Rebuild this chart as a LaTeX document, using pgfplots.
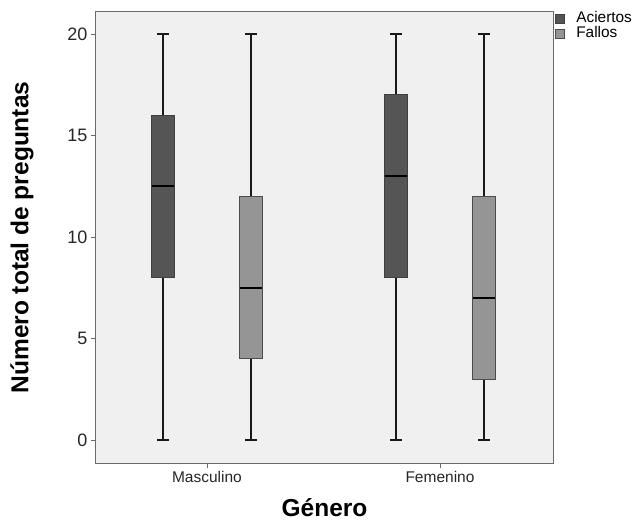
\documentclass[border=0pt]{standalone}
\usepackage{pgfplots}
\pgfplotsset{compat=1.18}
\usepgfplotslibrary{statistics}
\usepackage{fontspec}
\setmainfont{Liberation Sans}
\definecolor{bg}{HTML}{F0F0F0}
\definecolor{darkbox}{HTML}{555555}
\definecolor{lightbox}{HTML}{959595}
\definecolor{frame}{HTML}{6A6A6A}
\begin{document}
\begin{tikzpicture}
\path[use as bounding box] (-96bp,-58bp) rectangle (543bp,463bp);
\begin{axis}[
  scale only axis,
  width=457bp, height=451bp,
  xmin=0.524, xmax=2.485,
  ymin=-1.13, ymax=21.08,
  axis background/.style={fill=bg},
  axis line style={draw=frame, line width=1bp},
  xtick={1,2}, xticklabels={Masculino,Femenino},
  ytick={0,5,10,15,20},
  tick align=outside, tick pos=left,
  major tick length=5bp,
  every tick/.style={draw=frame, line width=0.8bp},
  /pgf/number format/assume math mode=true,
  yticklabel style={font=\fontsize{18bp}{20bp}\selectfont, text=black!85},
  xticklabel style={font=\fontsize{15.5bp}{17bp}\selectfont, text=black!85},
  ylabel={Número total de preguntas},
  xlabel={Género},
  ylabel style={at={(axis description cs:-0.162,0.5)}, anchor=center, font=\fontsize{24.5bp}{28bp}\selectfont\bfseries},
  xlabel style={at={(axis description cs:0.5,-0.1)}, anchor=center, font=\fontsize{24.5bp}{28bp}\selectfont\bfseries},
  boxplot/draw direction=y,
  boxplot/box extend=0.097,
  boxplot/whisker extend=0.05,
  boxplot/every whisker/.style={draw=black!90, line width=1.4bp},
  boxplot/every median/.style={draw=black, line width=2bp},
  boxplot/every box/.style={line width=0.8bp},
  legend style={at={(1,1)}, anchor=north west, draw=none, fill=none,
    font=\fontsize{15.4bp}{15bp}\selectfont, inner sep=0pt, outer sep=0pt,
    row sep=0bp, column sep=11bp, xshift=2bp, yshift=1bp,
    nodes={inner sep=0.5bp, text height=11bp, text depth=3.5bp}},
  legend cell align=left,
  clip=false,
]
% Masculino - Aciertos
\addplot+[forget plot, boxplot prepared={draw position=0.811, lower whisker=0, lower quartile=8, median=12.5, upper quartile=16, upper whisker=20},
  fill=darkbox, draw=black!75, mark=none, solid] coordinates {};
% Masculino - Fallos
\addplot+[forget plot, boxplot prepared={draw position=1.189, lower whisker=0, lower quartile=4, median=7.5, upper quartile=12, upper whisker=20},
  fill=lightbox, draw=black!70, mark=none, solid] coordinates {};
% Femenino - Aciertos
\addplot+[forget plot, boxplot prepared={draw position=1.811, lower whisker=0, lower quartile=8, median=13, upper quartile=17, upper whisker=20},
  fill=darkbox, draw=black!75, mark=none, solid] coordinates {};
% Femenino - Fallos
\addplot+[forget plot, boxplot prepared={draw position=2.189, lower whisker=0, lower quartile=3, median=7, upper quartile=12, upper whisker=20},
  fill=lightbox, draw=black!70, mark=none, solid] coordinates {};
\addlegendimage{legend image code/.code={\draw[fill=darkbox, draw=black!75, line width=0.8bp] (0bp,-4.5bp) rectangle (9bp,4.5bp);}}
\addlegendentry{Aciertos}
\addlegendimage{legend image code/.code={\draw[fill=lightbox, draw=black!70, line width=0.8bp] (0bp,-4.5bp) rectangle (9bp,4.5bp);}}
\addlegendentry{Fallos}
\end{axis}
\end{tikzpicture}
\end{document}
